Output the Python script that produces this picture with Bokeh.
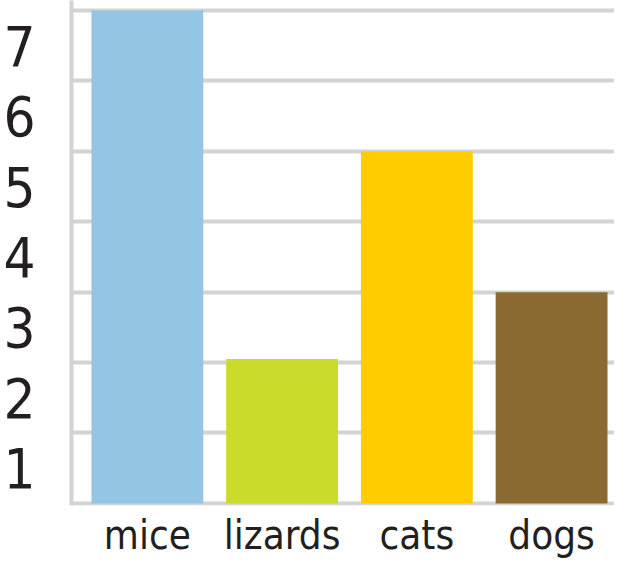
from bokeh.plotting import figure
from bokeh.models import FixedTicker, Range1d
from bokeh.embed import file_html
from bokeh.resources import INLINE

categories = ["mice", "lizards", "cats", "dogs"]
values = [7, 2.05, 5, 3]
colors = ["#93C5E4", "#CADB2A", "#FFCD00", "#8B6A2F"]
y_tick_labels = ["1", "2", "3", "4", "5", "6", "7"]

FONT = "DejaVu Sans Condensed"
GRID = "#D3D3D3"
TEXT = "#231F20"

xs = list(range(len(categories)))

p = figure(width=614, height=561, output_backend="svg", toolbar_location=None,
           x_range=Range1d(-0.563, 3.467), y_range=Range1d(-0.03, 7.142),
           min_border_left=70, min_border_bottom=56, min_border_top=0, min_border_right=0)
p.outline_line_color = None

p.vbar(x=xs, top=values, bottom=0, width=0.83, color=colors, line_color=None)

# y axis: labels centred in the bands
p.yaxis.ticker = FixedTicker(ticks=[i + 0.5 for i in range(len(y_tick_labels))])
p.yaxis.major_label_overrides = {i + 0.5: lab for i, lab in enumerate(y_tick_labels)}
p.yaxis.major_tick_line_color = None
p.yaxis.minor_tick_line_color = None
p.yaxis.axis_line_color = GRID
p.yaxis.axis_line_width = 4
p.yaxis.major_label_text_font = FONT
p.yaxis.major_label_text_font_size = "56px"
p.yaxis.major_label_text_color = TEXT
p.yaxis.major_label_standoff = 30

# x axis
p.xaxis.ticker = FixedTicker(ticks=xs)
p.xaxis.major_label_overrides = {i: c for i, c in enumerate(categories)}
p.xaxis.major_tick_line_color = None
p.xaxis.minor_tick_line_color = None
p.xaxis.axis_line_color = None
p.xaxis.major_label_text_font = FONT
p.xaxis.major_label_text_font_size = "40px"
p.xaxis.major_label_text_color = TEXT
p.xaxis.major_label_standoff = 0

# grid
p.xgrid.visible = False
p.ygrid.ticker = FixedTicker(ticks=list(range(0, len(y_tick_labels) + 1)))
p.ygrid.grid_line_color = GRID
p.ygrid.grid_line_width = 4

open("out.html", "w").write(file_html(p, INLINE))
